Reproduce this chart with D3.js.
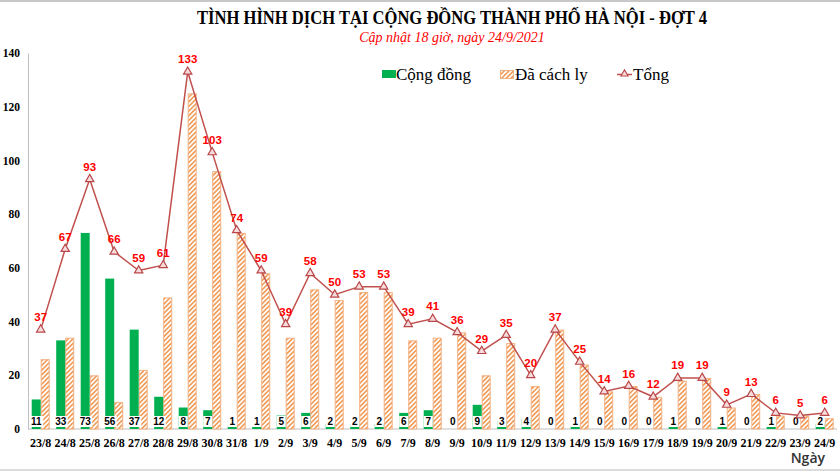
<!DOCTYPE html>
<html><head><meta charset="utf-8">
<script src="https://cdn.jsdelivr.net/npm/d3@7/dist/d3.min.js"></script>
<style>body{margin:0;background:#fff}svg{display:block}</style>
</head><body>
<script>
const dates = ["23/8","24/8","25/8","26/8","27/8","28/8","29/8","30/8","31/8","1/9","2/9","3/9","4/9","5/9","6/9","7/9","8/9","9/9","10/9","11/9","12/9","13/9","14/9","15/9","16/9","17/9","18/9","19/9","20/9","21/9","22/9","23/9","24/9"];
const congDong = [11,33,73,56,37,12,8,7,1,1,5,6,2,2,2,6,7,0,9,3,4,0,1,0,0,0,1,0,1,0,1,0,2];
const daCachLy = [26,34,20,10,22,49,125,96,73,58,34,52,48,51,51,33,34,36,20,32,16,37,24,14,16,12,18,19,8,13,5,5,4];
const tong = [37,67,93,66,59,61,133,103,74,59,39,58,50,53,53,39,41,36,29,35,20,37,25,14,16,12,19,19,9,13,6,5,6];
const yTicks = [0,20,40,60,80,100,120,140];

const W=840,H=473;
const svg = d3.select("body").append("svg").attr("width",W).attr("height",H);
const defs = svg.append("defs");
const pat = defs.append("pattern").attr("id","hatch").attr("patternUnits","userSpaceOnUse")
  .attr("width",3.3).attr("height",3.3).attr("patternTransform","rotate(45)");
pat.append("rect").attr("width",3.3).attr("height",3.3).attr("fill","#fff");
pat.append("line").attr("x1",0.8).attr("y1",0).attr("x2",0.8).attr("y2",3.3)
  .attr("stroke","#f0944a").attr("stroke-width",1.5);

// frame lines
svg.append("line").attr("x1",0).attr("x2",W).attr("y1",1).attr("y2",1).attr("stroke","#c8c8c8").attr("stroke-width",2);
svg.append("line").attr("x1",0).attr("x2",W).attr("y1",470).attr("y2",470).attr("stroke","#d0d0d0").attr("stroke-width",1.5);

const x = d3.scalePoint().domain(dates).range([40.7,824.7]);
const y = d3.scaleLinear().domain([0,140]).range([429,53]);
const bw = 9;

// titles
svg.append("text").attr("x",452).attr("y",24).attr("text-anchor","middle")
  .attr("font-family","Liberation Serif, serif").attr("font-weight","bold").attr("font-size",18)
  .attr("textLength",510).attr("lengthAdjust","spacingAndGlyphs").attr("fill","#000")
  .text("TÌNH HÌNH DỊCH TẠI CỘNG ĐỒNG THÀNH PHỐ HÀ NỘI - ĐỢT 4");
svg.append("text").attr("x",452).attr("y",42).attr("text-anchor","middle")
  .attr("font-family","Liberation Serif, serif").attr("font-style","italic").attr("font-size",14)
  .attr("fill","#ff0000").text("Cập nhật 18 giờ, ngày 24/9/2021");

// y axis
const yAxis = svg.append("g").attr("transform","translate(28,0)")
  .call(d3.axisLeft(y).tickValues(yTicks).tickSize(0).tickPadding(8));
yAxis.select(".domain").attr("stroke","#bfbfbf");
yAxis.selectAll("text").attr("font-family","Liberation Serif, serif").attr("font-weight","bold")
  .attr("font-size",11.5).attr("fill","#000");

// x axis
const xAxis = svg.append("g").attr("transform","translate(0,429)")
  .call(d3.axisBottom(x).tickSize(0).tickPadding(9).offset(0));
xAxis.select(".domain").attr("d","M28,0H837").attr("stroke","#bfbfbf");
xAxis.selectAll("text").attr("font-family","Liberation Serif, serif").attr("font-weight","bold")
  .attr("font-size",12).attr("fill","#000");

// bars
svg.append("g").selectAll("rect").data(daCachLy).join("rect")
  .attr("x",(d,i)=>x(dates[i])+0.5).attr("width",bw-1)
  .attr("y",d=>y(d)+0.5).attr("height",d=>Math.max(0,y(0)-y(d)-0.5))
  .attr("fill","url(#hatch)").attr("stroke","#f4b183").attr("stroke-width",1);
svg.append("g").selectAll("rect").data(congDong).join("rect")
  .attr("x",(d,i)=>x(dates[i])-bw).attr("width",bw)
  .attr("y",d=>y(d)).attr("height",d=>y(0)-y(d)).attr("fill","#00b050");

// community labels
const cl = svg.append("g").selectAll("g").data(congDong).join("g")
  .attr("transform",(d,i)=>`translate(${x(dates[i])-bw/2},421.5)`);
cl.append("rect").attr("x",d=>String(d).length>1?-7:-4.5).attr("width",d=>String(d).length>1?14:9)
  .attr("y",-5.5).attr("height",11).attr("fill","#fff");
cl.append("text").attr("text-anchor","middle").attr("dy","0.36em")
  .attr("font-family","Liberation Sans, Arial, sans-serif").attr("font-weight","bold")
  .attr("font-size",10).attr("fill","#000").text(d=>d);

// total line
const line = d3.line().x((d,i)=>x(dates[i])).y(d=>y(d));
svg.append("path").datum(tong).attr("d",line).attr("fill","none")
  .attr("stroke","#c0504d").attr("stroke-width",1.5);
const tri = d3.symbol().type(d3.symbolTriangle).size(30);
svg.append("g").selectAll("path").data(tong).join("path")
  .attr("d",tri).attr("transform",(d,i)=>`translate(${x(dates[i])},${y(d)})`)
  .attr("fill","#f6dcdc").attr("stroke","#b9474a").attr("stroke-width",1.2);
svg.append("g").selectAll("text").data(tong).join("text")
  .attr("x",(d,i)=>x(dates[i])).attr("y",d=>y(d)-8.5).attr("text-anchor","middle")
  .attr("font-family","Liberation Sans, Arial, sans-serif").attr("font-weight","bold")
  .attr("font-size",11.5).attr("fill","#ff0000").text(d=>d);

// legend
const lg = svg.append("g").attr("font-family","Liberation Serif, serif").attr("font-size",17).attr("fill","#000");
lg.append("rect").attr("x",382).attr("y",70).attr("width",14).attr("height",8).attr("fill","#00b050");
lg.append("text").attr("x",396).attr("y",80).text("Cộng đồng");
lg.append("rect").attr("x",500.5).attr("y",70.5).attr("width",13).attr("height",8).attr("fill","url(#hatch)").attr("stroke","#f4b183");
lg.append("text").attr("x",515).attr("y",80).text("Đã cách ly");
lg.append("line").attr("x1",617).attr("x2",632).attr("y1",74.5).attr("y2",74.5).attr("stroke","#c0504d").attr("stroke-width",1.5);
lg.append("path").attr("d",d3.symbol().type(d3.symbolTriangle).size(22)).attr("transform","translate(624.5,74)")
  .attr("fill","#f6dcdc").attr("stroke","#b9474a").attr("stroke-width",1.1);
lg.append("text").attr("x",633).attr("y",80).text("Tổng");

// axis title
svg.append("text").attr("x",825).attr("y",463).attr("text-anchor","end")
  .attr("font-family","Open Sans, Liberation Sans, sans-serif").attr("font-weight",600)
  .attr("font-size",14).attr("fill","#333").text("Ngày");
</script>
</body></html>
